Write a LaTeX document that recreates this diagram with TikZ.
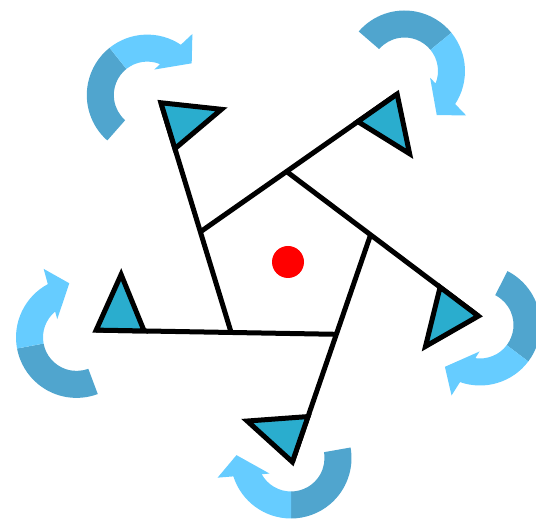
\documentclass[tikz,border=0pt]{standalone}
\usepackage{xcolor}
\definecolor{cFlag}{HTML}{2AADCE}
\definecolor{cTurnDark}{HTML}{50A5CE}
\definecolor{cTurnLight}{HTML}{66CCFF}
\definecolor{cDot}{HTML}{FF0000}
\usetikzlibrary{calc}
\tikzset{
  arm-line/.style={line width=5pt,draw=black},
  flag-tri/.style={line width=5pt,draw=black,fill=cFlag,line join=miter},
  turn-dark/.style={fill=cTurnDark},
  turn-light/.style={fill=cTurnLight},
  hub-dot/.style={circle,fill=cDot,minimum size=32pt,inner sep=0pt},
}

\begin{document}
\begin{tikzpicture}[x=1pt,y=1pt]
  \useasboundingbox (0,0) rectangle (536,519);
  \clip (0,0) rectangle (536,519);
  % turning arrows round the wheel
  \foreach \cx/\cy/\rot in {291/61/0, 76.5/181.6/-79.4, 147.3/423.9/218.6,
                            404.5/448/129.2, 480/194/53}{
    \begin{scope}[shift={(\cx,\cy)},rotate=\rot]
      \fill[turn-dark] (10:60.5) arc[start angle=10,end angle=-90,radius=60.5pt]
        -- (-90:33.5) arc[start angle=-90,end angle=10,radius=33.5pt] -- cycle;
      \fill[turn-light] (-90:60.5) arc[start angle=-90,end angle=-162.3,radius=60.5pt]
        -- (-165:76) -- (-183:54.6) -- (-144:26.5) -- (-151:33.5)
        arc[start angle=-151,end angle=-90,radius=33.5pt] -- cycle;
    \end{scope}
  }
  % pentagon and its flags
  \coordinate (hub) at (285,258);
  \foreach \k in {0,...,4}
    \coordinate (v\k) at ($(hub)+(89-72*\k:89.5)$);
  \foreach \k/\j in {0/4,1/0,2/1,3/2,4/3}{
    \coordinate (tip\k)  at ($(v\j)!2.283!(v\k)$);
    \coordinate (base\k) at ($(v\j)!1.827!(v\k)$);
    \coordinate (mid\k)  at ($(v\j)!2.055!(v\k)$);
    \coordinate (apex\k) at ($(mid\k)!56pt!-90:(tip\k)$);
    \draw[arm-line] (v\j) -- (tip\k);
    \draw[flag-tri] (base\k) -- (tip\k) -- (apex\k) -- cycle;
  }
  \node[hub-dot] (dot) at (288,257) {};
\end{tikzpicture}
\end{document}
